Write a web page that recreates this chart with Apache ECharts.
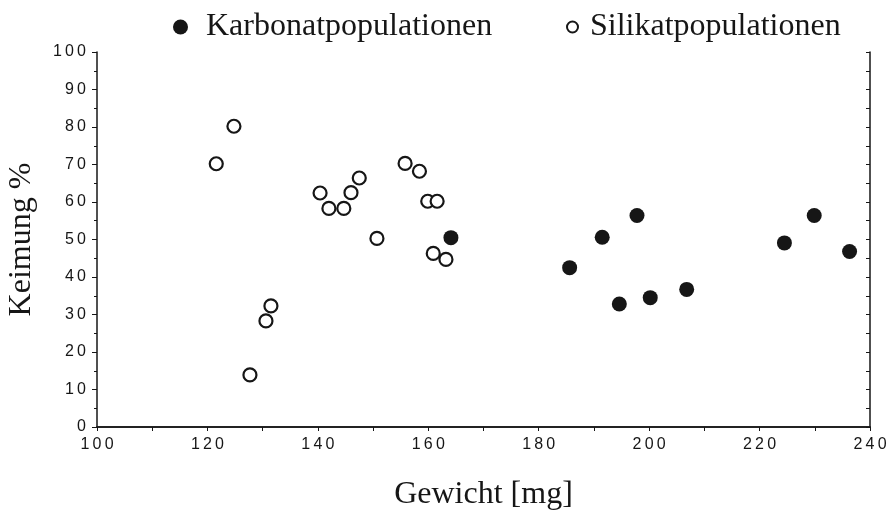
<!DOCTYPE html>
<html>
<head>
<meta charset="utf-8">
<script src="https://cdn.jsdelivr.net/npm/echarts@6/dist/echarts.min.js"></script>
<style>
  html, body { margin: 0; padding: 0; background: #fff; }
  #chartmain { width: 890px; height: 515px; }
</style>
</head>
<body>
<div id="chartmain"></div>
<script>
// Karbonatpopulationen (gefüllt) — [Gewicht mg, Keimung %]
var karbonat = [
  [164.1, 50.5], [185.6, 42.5], [191.5, 50.6], [194.6, 32.8], [197.8, 56.4],
  [200.2, 34.5], [206.8, 36.7], [224.5, 49.1], [229.9, 56.4], [236.3, 46.8]
];
// Silikatpopulationen (offen)
var silikat = [
  [121.6, 70.2], [124.8, 80.2], [127.7, 13.9], [130.6, 28.3], [131.5, 32.3],
  [140.4, 62.4], [142.0, 58.3], [144.7, 58.3], [146.0, 62.5], [147.5, 66.4],
  [150.7, 50.3], [155.8, 70.3], [158.4, 68.2], [159.9, 60.2], [160.9, 46.3],
  [161.6, 60.2], [163.2, 44.7]
];
var xTicks = [100, 240, 20];   // min, max, step
var yTicks = [0, 100, 10];

var chart = echarts.init(document.getElementById('chartmain'));
var serif = 'Liberation Serif';
var sans = 'Liberation Sans';
var ink = '#161616';

// gesperrte Ziffern wie im Original
function spaced(v) {
  return String(v).split('').join('\u2009');
}

function frameAxis(pos, step) {
  return {
    type: 'value', position: pos, interval: step,
    axisLine: { lineStyle: { color: ink, width: 1.5 } },
    axisTick: { inside: true, length: 4, lineStyle: { color: ink } },
    axisLabel: { show: false },
    splitLine: { show: false }
  };
}

var xTop = frameAxis('top', 10);
xTop.min = xTicks[0]; xTop.max = xTicks[1];
var yRight = frameAxis('right', 5);
yRight.min = yTicks[0]; yRight.max = yTicks[1];

chart.setOption({
  animation: false,
  backgroundColor: '#fff',
  legend: [
    {
      left: 168, top: 6,
      itemWidth: 15, itemHeight: 15,
      textStyle: { fontFamily: serif, fontSize: 32, color: ink, padding: [0, 0, 0, 13] },
      data: ['Karbonatpopulationen']
    },
    {
      left: 561, top: 6,
      itemWidth: 11, itemHeight: 11,
      textStyle: { fontFamily: serif, fontSize: 32, color: ink, padding: [0, 0, 0, 7] },
      data: ['Silikatpopulationen']
    }
  ],
  grid: { left: 97, right: 20, top: 52, bottom: 88, outerBoundsMode: 'none' },
  xAxis: [
    {
      type: 'value', min: xTicks[0], max: xTicks[1], interval: xTicks[2],
      name: 'Gewicht [mg]', nameLocation: 'middle', nameGap: 52,
      nameTextStyle: { fontFamily: serif, fontSize: 32, color: ink },
      axisLine: { lineStyle: { color: ink, width: 1.5 } },
      axisTick: { inside: false, length: 4, lineStyle: { color: ink } },
      minorTick: { show: true, splitNumber: 2, length: 4, lineStyle: { color: ink } },
      axisLabel: { fontFamily: sans, fontSize: 16, color: ink, margin: 10, formatter: spaced },
      splitLine: { show: false }
    },
    xTop
  ],
  yAxis: [
    {
      type: 'value', min: yTicks[0], max: yTicks[1], interval: yTicks[2],
      name: 'Keimung %', nameLocation: 'middle', nameGap: 59,
      nameTextStyle: { fontFamily: serif, fontSize: 32, color: ink },
      axisLine: { lineStyle: { color: ink, width: 1.5 } },
      axisTick: { inside: false, length: 5, lineStyle: { color: ink } },
      minorTick: { show: true, splitNumber: 2, length: 3, lineStyle: { color: ink } },
      axisLabel: { fontFamily: sans, fontSize: 16, color: ink, margin: 11, formatter: spaced },
      splitLine: { show: false }
    },
    yRight
  ],
  series: [
    {
      name: 'Karbonatpopulationen',
      type: 'scatter',
      symbol: 'circle',
      symbolSize: 15,
      itemStyle: { color: ink, borderWidth: 0, opacity: 1 },
      data: karbonat
    },
    {
      name: 'Silikatpopulationen',
      type: 'scatter',
      symbol: 'circle',
      symbolSize: 13,
      itemStyle: { color: '#fff', borderColor: ink, borderWidth: 2.2, opacity: 1 },
      data: silikat
    }
  ]
});
</script>
</body>
</html>
